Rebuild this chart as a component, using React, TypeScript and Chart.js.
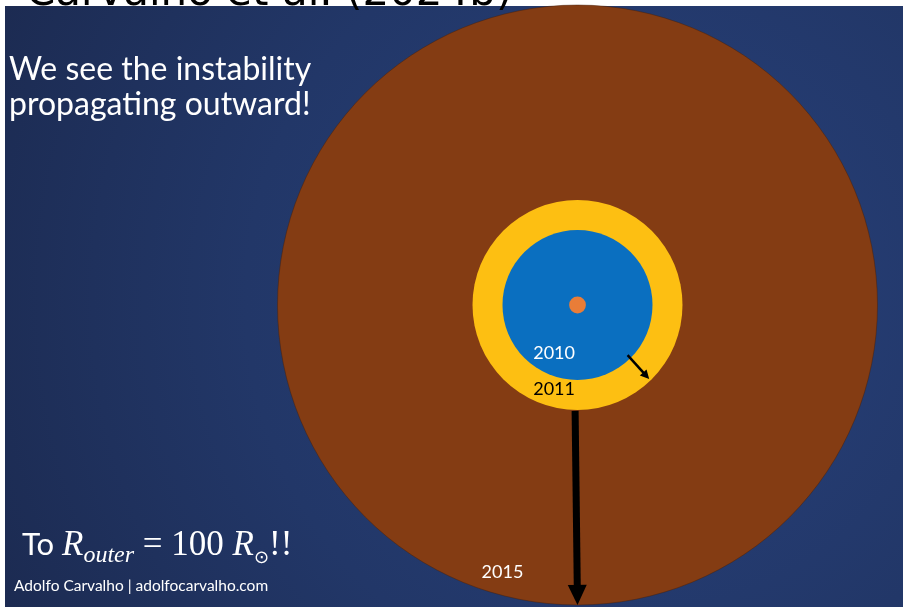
import React, { useEffect, useRef } from "react";
import { Chart, registerables } from "chart.js";

Chart.register(...registerables);

// ---- data (radii in solar radii, R_sun) ----
const years = ["2010", "2011", "2015"];
const ringRadii = [25, 35, 100];
const starRadius = 2.8;
const labelX = [-7.8, -7.8, -25];
const labelY = [-18, -30, -91];
const labelColors = ["#ffffff", "#000000", "#ffffff"];

// expansion arrows (start -> end, data units)
const arrowStartX = [16.7, -0.8];
const arrowStartY = [-16.7, -35.3];
const arrowEndX = [23.9, 0];
const arrowEndY = [-24.7, -100];

const ringColors = ["#0A6FC0", "#FDBF12", "#843C13"];
const starColor = "#E97D38";

const titleText = "Carvalho et al. (2024b)";
const headline = ["We see the instability", "propagating outward!"];
const credit = "Adolfo Carvalho | adolfocarvalho.com";

export default function App() {
  const ref = useRef<HTMLCanvasElement | null>(null);

  useEffect(() => {
    const canvas = ref.current;
    if (!canvas) return;

    const pxRadius = (chart: any, r: number) => {
      const s = chart.scales.x;
      return Math.abs(s.getPixelForValue(r) - s.getPixelForValue(0));
    };

    const bgPlugin = {
      id: "slideBg",
      beforeDraw(chart: any) {
        const ctx = chart.ctx;
        ctx.save();
        ctx.fillStyle = "#ffffff";
        ctx.fillRect(0, 0, chart.width, chart.height);
        const g = ctx.createRadialGradient(640, 300, 20, 640, 300, 700);
        g.addColorStop(0, "#27407a");
        g.addColorStop(0.55, "#223768");
        g.addColorStop(1, "#1c2b52");
        ctx.fillStyle = g;
        ctx.fillRect(5, 6, chart.width - 5, chart.height - 6);
        ctx.restore();
      },
    };

    const arrowPlugin = {
      id: "arrows",
      afterDatasetsDraw(chart: any) {
        const ctx = chart.ctx;
        const sx = chart.scales.x;
        const sy = chart.scales.y;
        const widths = [2.5, 7];
        const heads = [[9, 9], [20, 19]];
        ctx.save();
        for (let i = 0; i < arrowStartX.length; i++) {
          const x0 = sx.getPixelForValue(arrowStartX[i]);
          const y0 = sy.getPixelForValue(arrowStartY[i]);
          const x1 = sx.getPixelForValue(arrowEndX[i]);
          const y1 = sy.getPixelForValue(arrowEndY[i]);
          const ang = Math.atan2(y1 - y0, x1 - x0);
          const [hl, hw] = heads[i];
          const bx = x1 - Math.cos(ang) * hl;
          const by = y1 - Math.sin(ang) * hl;
          ctx.strokeStyle = "#000";
          ctx.lineWidth = widths[i];
          ctx.beginPath();
          ctx.moveTo(x0, y0);
          ctx.lineTo(bx + Math.cos(ang) * 1, by + Math.sin(ang) * 1);
          ctx.stroke();
          ctx.fillStyle = "#000";
          ctx.beginPath();
          ctx.moveTo(x1, y1);
          ctx.lineTo(bx + Math.sin(ang) * hw / 2, by - Math.cos(ang) * hw / 2);
          ctx.lineTo(bx - Math.sin(ang) * hw / 2, by + Math.cos(ang) * hw / 2);
          ctx.closePath();
          ctx.fill();
        }
        ctx.restore();
      },
    };

    const textPlugin = {
      id: "texts",
      afterDraw(chart: any) {
        const ctx = chart.ctx;
        const sx = chart.scales.x;
        const sy = chart.scales.y;
        ctx.save();
        // year labels
        ctx.textAlign = "center";
        ctx.textBaseline = "alphabetic";
        ctx.font = "18px Lato";
        years.forEach((yr, i) => {
          ctx.fillStyle = labelColors[i];
          ctx.fillText(yr, sx.getPixelForValue(labelX[i]), sy.getPixelForValue(labelY[i]));
        });

        ctx.textAlign = "left";
        // headline
        ctx.fillStyle = "#ffffff";
        ctx.font = "32px Lato";
        ctx.fillText(headline[0], 9, 80);
        ctx.fillText(headline[1], 9, 115);

        // To R_outer = 100 R_sun !!
        let x = 22;
        const base = 555;
        ctx.font = "31px Lato";
        ctx.fillText("To ", x, base);
        x += ctx.measureText("To ").width;
        ctx.font = "italic 35px 'Liberation Serif'";
        ctx.fillText("R", x, base);
        x += ctx.measureText("R").width;
        ctx.font = "italic 24px 'Liberation Serif'";
        ctx.fillText("outer", x, base + 7);
        x += ctx.measureText("outer").width;
        ctx.font = "35px 'Liberation Serif'";
        ctx.fillText(" = 100 ", x, base);
        x += ctx.measureText(" = 100 ").width;
        ctx.font = "italic 35px 'Liberation Serif'";
        ctx.fillText("R", x, base);
        x += ctx.measureText("R").width;
        ctx.font = "18px 'DejaVu Sans'";
        ctx.fillText("\u2299", x, base + 8);
        x += ctx.measureText("\u2299").width;
        ctx.font = "35px 'Liberation Serif'";
        ctx.fillText("!!", x, base);

        // credit
        ctx.font = "15.5px Lato";
        ctx.fillText(credit, 14, 591);

        // cut-off title at very top
        ctx.fillStyle = "#000000";
        ctx.font = "42px 'DejaVu Sans'";
        ctx.fillText(titleText, 26, 5);
        ctx.restore();
      },
    };

    const mkRing = (r: number, color: string, border: number) => ({
      type: "scatter" as const,
      data: [{ x: 0, y: 0 }],
      pointRadius: (c: any) => pxRadius(c.chart, r),
      pointHoverRadius: (c: any) => pxRadius(c.chart, r),
      pointBackgroundColor: color,
      pointBorderColor: "rgba(70,30,8,0.45)",
      pointBorderWidth: border,
      showLine: false,
    });

    const chart = new Chart(canvas, {
      type: "scatter",
      data: {
        datasets: [
          { label: "star", ...mkRing(starRadius, starColor, 0) },
          { label: years[0], ...mkRing(ringRadii[0], ringColors[0], 0) },
          { label: years[1], ...mkRing(ringRadii[1], ringColors[1], 0) },
          { label: years[2], ...mkRing(ringRadii[2], ringColors[2], 1) },
        ] as any,
      },
      options: {
        animation: false,
        responsive: false,
        events: [],
        layout: { padding: 0 },
        plugins: {
          legend: { display: false },
          tooltip: { enabled: false },
          title: { display: false },
        },
        scales: {
          x: { type: "linear", display: false, min: -192.5, max: 108.5 },
          y: { type: "linear", display: false, min: -100.67, max: 101.67 },
        },
      },
      plugins: [bgPlugin, arrowPlugin, textPlugin],
    });
    return () => chart.destroy();
  }, []);

  return (
    <canvas
      ref={ref}
      width={903}
      height={607}
      style={{ position: "fixed", left: 0, top: 0, display: "block" }}
    />
  );
}
